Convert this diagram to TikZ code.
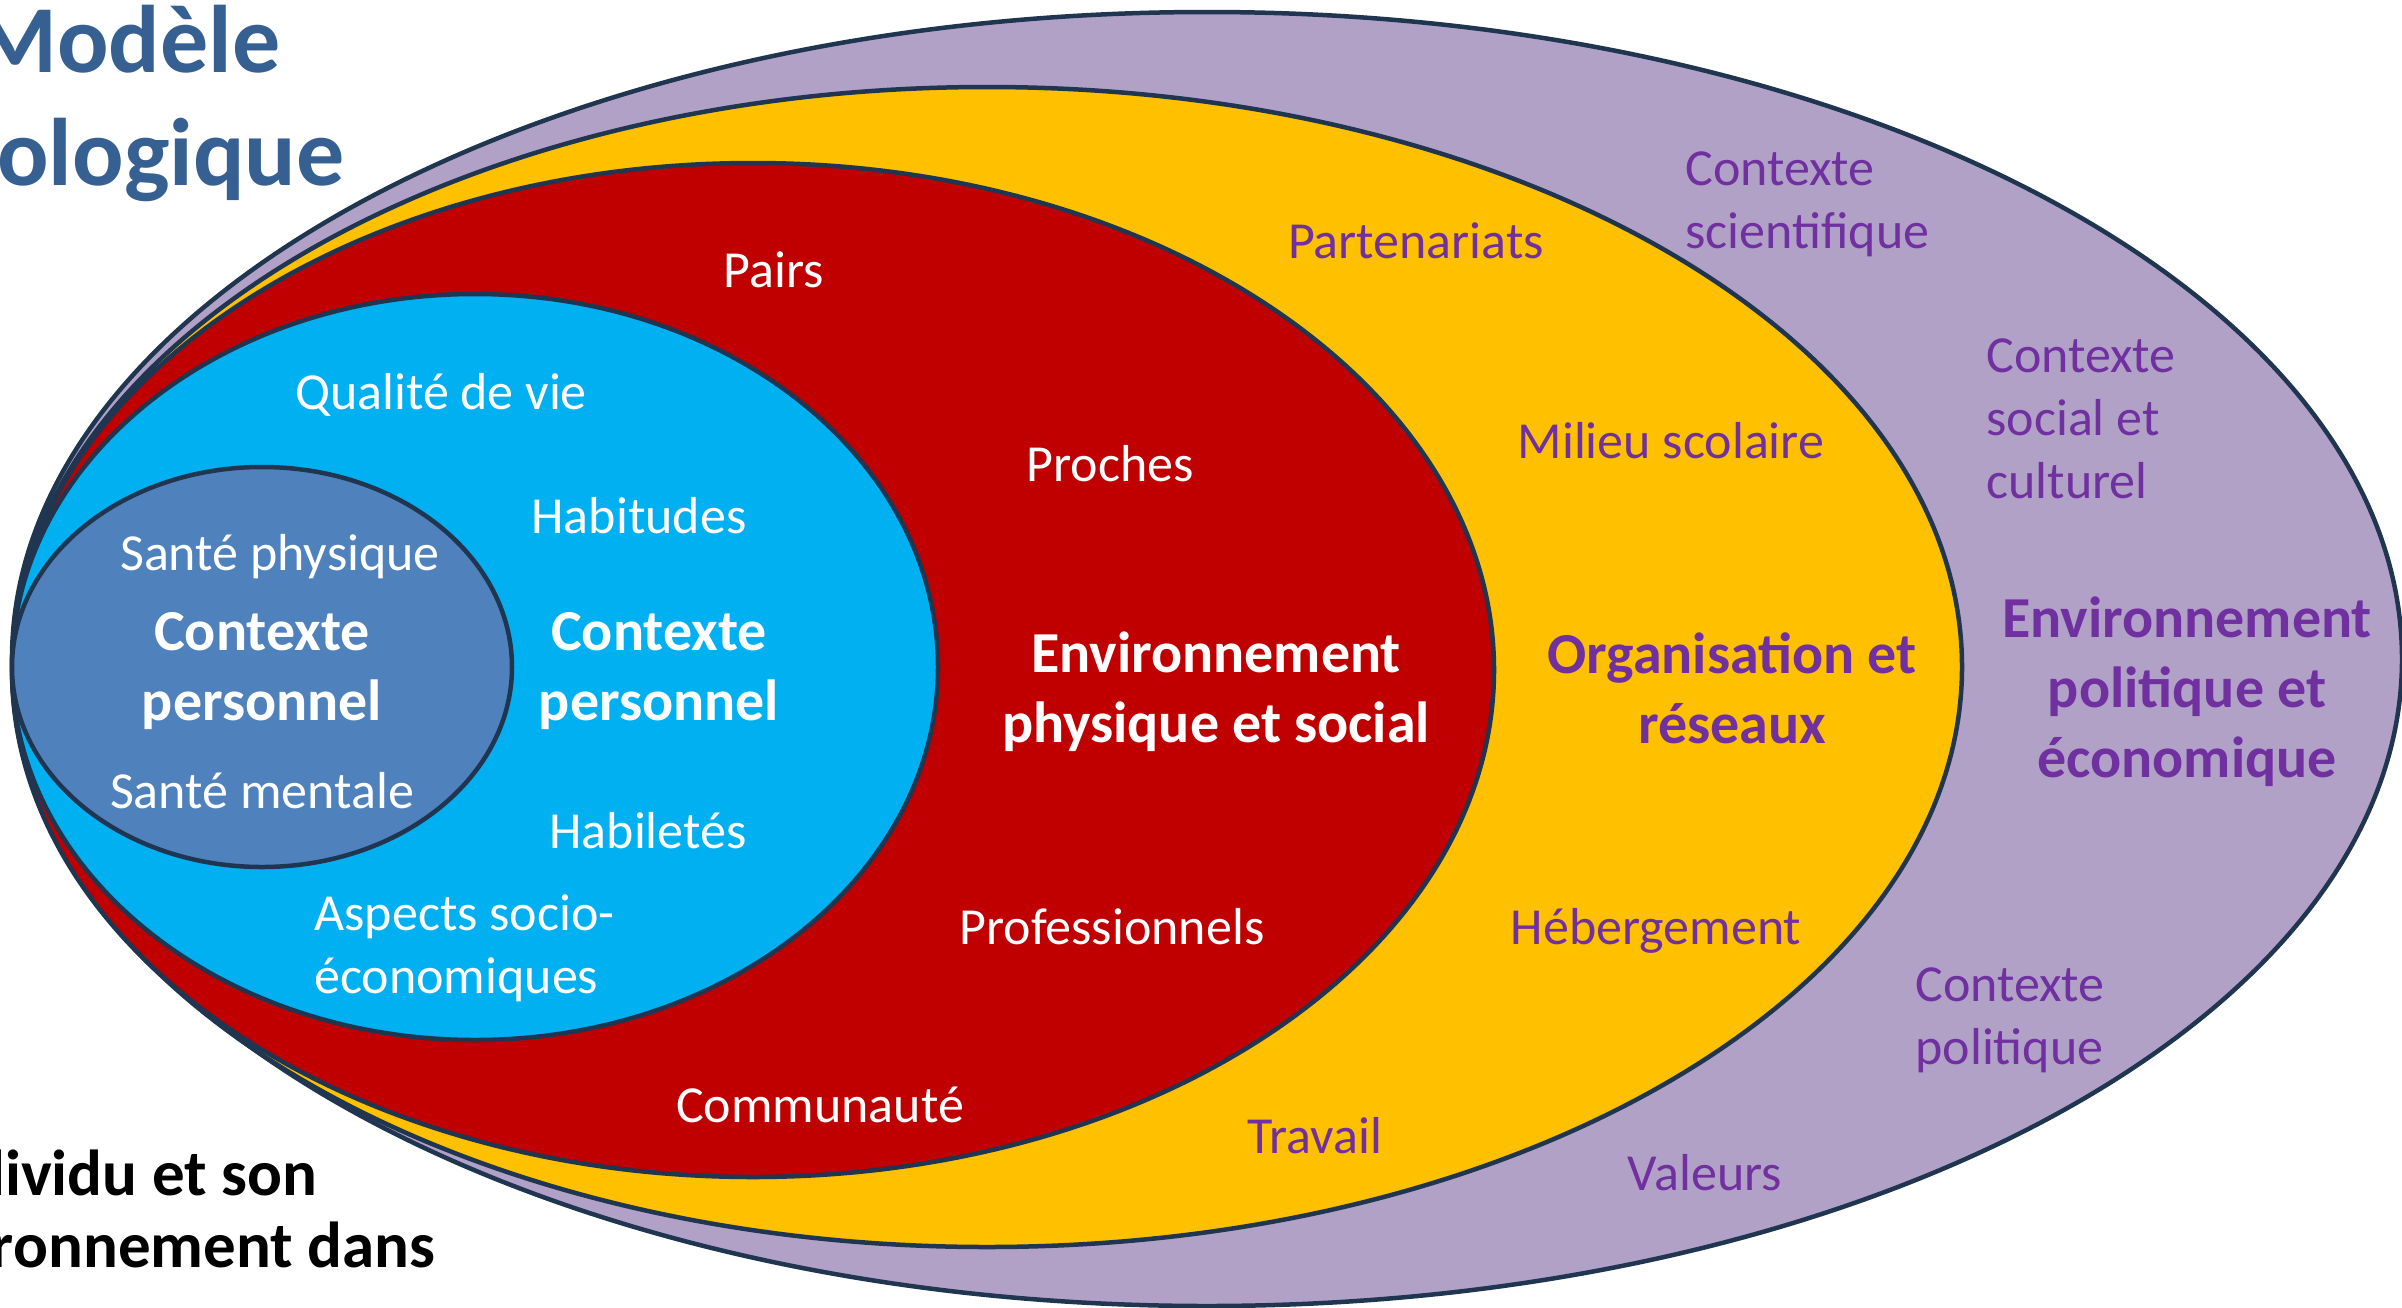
\documentclass[tikz,border=0pt]{standalone}
\usepackage{fontspec}
\setmainfont{Carlito}
\definecolor{edge}{HTML}{1F3550}
\definecolor{purpfill}{HTML}{B2A1C7}
\definecolor{yelfill}{HTML}{FFC000}
\definecolor{redfill}{HTML}{C00000}
\definecolor{cyanfill}{HTML}{00B0F0}
\definecolor{bluefill}{HTML}{4F81BD}
\definecolor{ptext}{HTML}{7030A0}
\definecolor{titleblue}{HTML}{376092}
\begin{document}
\begin{tikzpicture}[x=0.5pt,y=-0.5pt,
  ring/.style={draw=edge, line width=2.25pt},
  lbl/.style={font=\fontsize{26}{31.5}\selectfont, inner sep=0pt, align=center, anchor=base},
  lblw/.style={lbl, text=white},
  lblp/.style={lbl, text=ptext},
  bold/.style={font=\bfseries\fontsize{29}{35}\selectfont, inner sep=0pt, align=center, anchor=base},
  boldw/.style={bold, text=white},
  boldp/.style={bold, text=ptext},
  ttl/.style={font=\bfseries\fontsize{48}{57.6}\selectfont, inner sep=0pt, anchor=base east, text=titleblue},
  side/.style={font=\bfseries\fontsize{32.5}{39}\selectfont, inner sep=0pt, anchor=base east, text=black}]
\useasboundingbox (0,0) rectangle (2402,1307);
% rings
\filldraw[ring, fill=purpfill] (1207,659) ellipse [x radius=1195, y radius=647];
\filldraw[ring, fill=yelfill] (987,667) ellipse [x radius=975, y radius=580];
\filldraw[ring, fill=redfill] (753,670) ellipse [x radius=741, y radius=507];
\filldraw[ring, fill=cyanfill] (475,667) ellipse [x radius=463, y radius=373];
\filldraw[ring, fill=bluefill] (262,667) ellipse [x radius=250, y radius=200];
% title and side text
\node[ttl] (t1) at (281,72) {Modèle};
\node[ttl] (t2) at (345,185) {ologique};
\node[side] (s1) at (318,1195) {dividu et son};
\node[side] (s2) at (436,1267) {ronnement dans};
% inner ellipse (multi-line nodes: coordinate = baseline of last line)
\node[lblw] (sphys) at (280,570) {Santé physique};
\node[boldw] (cp1) at (262,720) {Contexte\\personnel};
\node[lblw] (smen) at (262,808) {Santé mentale};
% cyan
\node[lblw] (qdv) at (441,409) {Qualité de vie};
\node[lblw] (hab) at (639,533) {Habitudes};
\node[boldw] (cp2) at (659,720) {Contexte\\personnel};
\node[lblw] (habl) at (648,848) {Habiletés};
\node[lblw, align=left, anchor=base west] (asp) at (314,993) {Aspects socio-\\économiques};
% red
\node[lblw] (pairs) at (774,287) {Pairs};
\node[lblw] (proches) at (1110,481) {Proches};
\node[boldw] (env) at (1216,742) {Environnement\\physique et social};
\node[lblw] (prof) at (1112,944) {Professionnels};
\node[lblw] (comm) at (820,1122) {Communauté};
% yellow
\node[lblp] (part) at (1416,258) {Partenariats};
\node[lblp] (mil) at (1671,458) {Milieu scolaire};
\node[boldp] (org) at (1732,743) {Organisation et\\réseaux};
\node[lblp] (heb) at (1656,944) {Hébergement};
\node[lblp] (trav) at (1315,1153) {Travail};
% purple
\node[lblp, align=left, anchor=base west] (csci) at (1685,248) {Contexte\\scientifique};
\node[lblp, align=left, anchor=base west] (csoc) at (1986,498) {Contexte\\social et\\culturel};
\node[boldp] (epe) at (2187,777) {Environnement\\politique et\\économique};
\node[lblp, align=left, anchor=base west] (cpol) at (1915,1064) {Contexte\\politique};
\node[lblp] (val) at (1705,1190) {Valeurs};
\end{tikzpicture}
\end{document}
